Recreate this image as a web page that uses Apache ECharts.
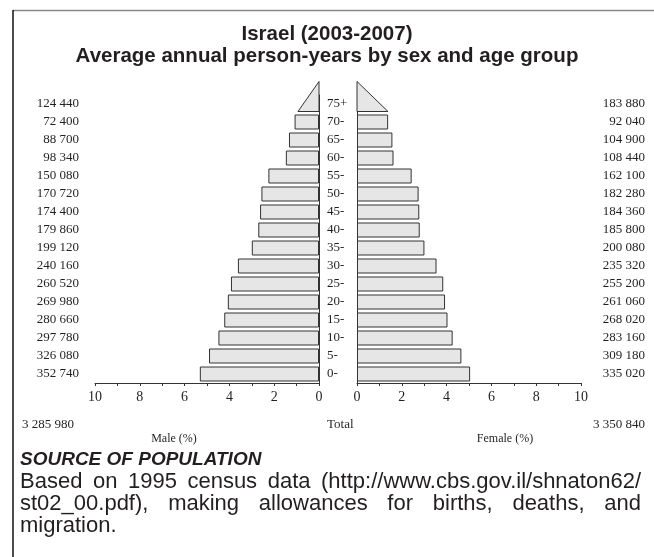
<!DOCTYPE html>
<html>
<head>
<meta charset="utf-8">
<script src="https://cdn.jsdelivr.net/npm/echarts@6/dist/echarts.min.js"></script>
<style>
html,body{margin:0;padding:0;background:#fff;}
#c{width:654px;height:557px;}
</style>
</head>
<body>
<div id="c"></div>
<script>
// ---- data (bottom to top) ----
var ages = ['0-','5-','10-','15-','20-','25-','30-','35-','40-','45-','50-','55-','60-','65-','70-','75+'];
var maleCounts = [352740,326080,297780,280660,269980,260520,240160,199120,179860,174400,170720,150080,98340,88700,72400,124440];
var femaleCounts = [335020,309180,283160,268020,261060,255200,235320,200080,185800,184360,182280,162100,108440,104900,92040,183880];
var malePct = [5.32,4.91,4.49,4.23,4.07,3.93,3.62,3.00,2.71,2.63,2.57,2.26,1.48,1.34,1.09,1.88];
var femalePct = [5.05,4.66,4.27,4.04,3.93,3.85,3.55,3.01,2.80,2.78,2.75,2.44,1.63,1.58,1.39,2.77];
var maleTotal = 3285980;
var femaleTotal = 3350840;
var openGroup = '75+';

function fmt(n){ return String(n).replace(/\B(?=(\d{3})+(?!\d))/g,' '); }

var SERIF = "'Liberation Serif','Times New Roman',serif";
var SANS = "'Liberation Sans',Arial,Helvetica,sans-serif";
var TXT = '#231f20';
var BARH = 15;

function barData(arr){ return arr.map(function(v,i){ return ages[i]===openGroup ? '-' : v; }); }
function triData(arr){ var i = ages.indexOf(openGroup); return [[arr[i], ages[i]]]; }

function triRender(params, api){
  var v = api.value(0), cat = api.value(1);
  var p0 = api.coord([0, cat]);
  var p1 = api.coord([v/2, cat]);
  var yb = p0[1] + BARH/2;
  return {
    type:'polygon',
    shape:{points:[[p0[0],yb],[p1[0],yb],[p0[0],yb-2*BARH]]},
    style:{fill:'#e6e6e6',stroke:'#333',lineWidth:1}
  };
}

var chart = echarts.init(document.getElementById('c'), null, {renderer:'canvas'});

var xAxisCommon = {
  type:'value', min:0, max:10, interval:2,
  axisLine:{show:true,lineStyle:{color:'#333',width:1}},
  axisTick:{show:true,length:3,lineStyle:{color:'#333'}},
  minorTick:{show:true,splitNumber:2,length:3,lineStyle:{color:'#333'}},
  splitLine:{show:false},
  axisLabel:{fontFamily:SERIF,fontSize:14,color:TXT,margin:7}
};

// footnote justification
var mctx = document.createElement('canvas').getContext('2d');
function justifyLine(text, x0, x1, y, font){
  var words = text.split(' ');
  mctx.font = font;
  var widths = words.map(function(w){ return mctx.measureText(w).width; });
  var sum = widths.reduce(function(a,b){return a+b;},0);
  var gap = (x1-x0-sum)/(words.length-1);
  var els = [], x = x0;
  words.forEach(function(w,i){
    els.push({type:'text',x:x,y:y,style:{text:w,font:font,fill:TXT,textVerticalAlign:'middle'}});
    x += widths[i] + gap;
  });
  return els;
}
var BODYFONT = "22px " + SANS;
var graphics = [
  {type:'line',shape:{x1:13,y1:10.5,x2:654,y2:10.5},style:{stroke:'#888',lineWidth:1.5}},
  {type:'line',shape:{x1:13,y1:10,x2:13,y2:557},style:{stroke:'#111',lineWidth:1.5}},
  {type:'text',x:74,y:425,style:{text:fmt(maleTotal),font:'13px '+SERIF,fill:TXT,textAlign:'right',textVerticalAlign:'middle'}},
  {type:'text',x:327,y:425,style:{text:'Total',font:'13px '+SERIF,fill:TXT,textAlign:'left',textVerticalAlign:'middle'}},
  {type:'text',x:645,y:425,style:{text:fmt(femaleTotal),font:'13px '+SERIF,fill:TXT,textAlign:'right',textVerticalAlign:'middle'}},
  {type:'text',x:174,y:439,style:{text:'Male (%)',font:'12px '+SERIF,fill:TXT,textAlign:'center',textVerticalAlign:'middle'}},
  {type:'text',x:505,y:439,style:{text:'Female (%)',font:'12px '+SERIF,fill:TXT,textAlign:'center',textVerticalAlign:'middle'}},
  {type:'text',x:20,y:460,style:{text:'SOURCE OF POPULATION',font:'italic bold 19px '+SANS,fill:TXT,textVerticalAlign:'middle'}},
  {type:'text',x:20,y:526,style:{text:'migration.',font:BODYFONT,fill:TXT,textVerticalAlign:'middle'}}
];
graphics = graphics.concat(justifyLine('Based on 1995 census data (http://www.cbs.gov.il/shnaton62/',20,641,482,BODYFONT));
graphics = graphics.concat(justifyLine('st02_00.pdf), making allowances for births, deaths, and',20,641,504,BODYFONT));

var option = {
  animation:false,
  backgroundColor:'#fff',
  title:{
    text:'Israel (2003-2007)\nAverage annual person-years by sex and age group',
    left:'center', top:18,
    textStyle:{fontFamily:SANS,fontWeight:'bold',fontSize:20.5,lineHeight:22,color:TXT}
  },
  grid:[
    {left:95,width:224,top:95,height:288},
    {left:357,width:224,top:95,height:288}
  ],
  xAxis:[
    Object.assign({gridIndex:0,inverse:true}, xAxisCommon),
    Object.assign({gridIndex:1}, xAxisCommon)
  ],
  yAxis:[
    {type:'category',gridIndex:0,data:ages,position:'right',
     axisLine:{show:true,lineStyle:{color:'#333'}},axisTick:{show:false},
     axisLabel:{fontFamily:SERIF,fontSize:13,color:TXT,align:'left',margin:8}},
    {type:'category',gridIndex:0,data:ages,position:'left',
     axisLine:{show:false},axisTick:{show:false},
     axisLabel:{fontFamily:SERIF,fontSize:13,color:TXT,margin:16,
       formatter:function(v,i){return fmt(maleCounts[i]);}}},
    {type:'category',gridIndex:1,data:ages,position:'left',
     axisLine:{show:true,lineStyle:{color:'#333'}},axisTick:{show:false},axisLabel:{show:false}},
    {type:'category',gridIndex:1,data:ages,position:'right',
     axisLine:{show:false},axisTick:{show:false},
     axisLabel:{fontFamily:SERIF,fontSize:13,color:TXT,align:'right',margin:64,
       formatter:function(v,i){return fmt(femaleCounts[i]);}}}
  ],
  series:[
    {type:'bar',xAxisIndex:0,yAxisIndex:0,data:barData(malePct),barWidth:BARH,
     itemStyle:{color:'#e6e6e6',borderColor:'#333',borderWidth:1}},
    {type:'bar',xAxisIndex:1,yAxisIndex:2,data:barData(femalePct),barWidth:BARH,
     itemStyle:{color:'#e6e6e6',borderColor:'#333',borderWidth:1}},
    {type:'custom',xAxisIndex:0,yAxisIndex:0,data:triData(malePct),renderItem:triRender,z:3},
    {type:'custom',xAxisIndex:1,yAxisIndex:2,data:triData(femalePct),renderItem:triRender,z:3}
  ],
  graphic:graphics
};
chart.setOption(option);
</script>
</body>
</html>
